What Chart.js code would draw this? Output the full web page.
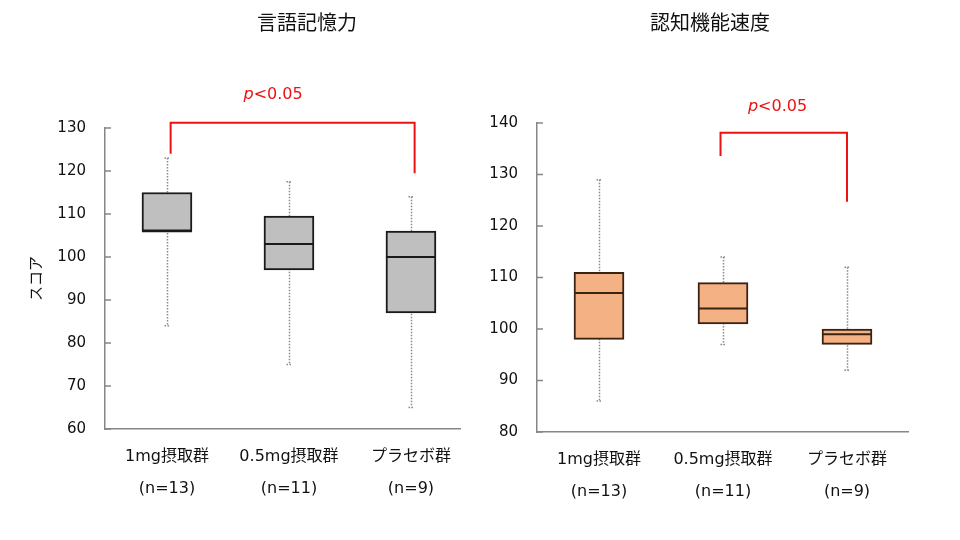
<!DOCTYPE html>
<html>
<head>
<meta charset="utf-8">
<script src="https://cdn.jsdelivr.net/npm/chart.js@4.4.1/dist/chart.umd.min.js"></script>
<style>
  body { margin: 0; background: #fff; width: 960px; height: 540px; overflow: hidden; position: relative; }
  canvas { position: absolute; top: 0; }
  #memory { left: 0; }
  #speed { left: 480px; }
</style>
</head>
<body>
<canvas id="memory" width="480" height="540"></canvas>
<canvas id="speed" width="480" height="540"></canvas>
<script>
const groups = [["1mg摂取群", "(n=13)"], ["0.5mg摂取群", "(n=11)"], ["プラセボ群", "(n=9)"]];

// 言語記憶力
const memMin = [84, 75, 65];
const memQ1 = [106, 97, 87];
const memMedian = [106, 103, 100];
const memQ3 = [115, 109.5, 106];
const memMax = [123, 117.5, 114];
const memTicks = [60, 70, 80, 90, 100, 110, 120, 130];

// 認知機能速度
const speedMin = [86, 97, 92];
const speedQ1 = [98, 101, 97];
const speedMedian = [107, 104, 99];
const speedQ3 = [111, 109, 100];
const speedMax = [129, 114, 112];
const speedTicks = [80, 90, 100, 110, 120, 130, 140];

// significance bracket: [left x, right x], [left leg y, top y, right leg y], label pos
const memBracketX = [0.03, 2.03];
const memBracketY = [124, 131.2, 119.5];
const memSigAt = [0.87, 137.7];
const speedBracketX = [0.98, 2.0];
const speedBracketY = [133.6, 138.1, 124.7];
const speedSigAt = [1.44, 143.1];

const axisGrey = "#868686";
const red = "#ee1111";

function boxPlugin(cfg) {
  return {
    id: "boxExtras",
    beforeDatasetsDraw(chart) {
      const { ctx, scales: { x, y } } = chart;
      ctx.save();
      ctx.strokeStyle = "#8a8a8a";
      ctx.lineWidth = 1.5;
      ctx.setLineDash([1.5, 1.5]);
      cfg.min.forEach((lo, i) => {
        const px = Math.round(x.getPixelForValue(i)) + 0.5;
        const top = y.getPixelForValue(cfg.max[i]);
        const bot = y.getPixelForValue(lo);
        ctx.beginPath();
        ctx.moveTo(px, top); ctx.lineTo(px, bot);
        ctx.moveTo(px - 3, top); ctx.lineTo(px + 3, top);
        ctx.moveTo(px - 3, bot); ctx.lineTo(px + 3, bot);
        ctx.stroke();
      });
      ctx.restore();
    },
    afterDatasetsDraw(chart) {
      const { ctx, chartArea, scales: { x, y } } = chart;
      ctx.save();
      // medians
      ctx.strokeStyle = cfg.edge;
      ctx.lineWidth = 2;
      cfg.median.forEach((m, i) => {
        const px = x.getPixelForValue(i);
        const py = y.getPixelForValue(m);
        ctx.beginPath();
        ctx.moveTo(px - 25, py); ctx.lineTo(px + 25, py);
        ctx.stroke();
      });
      // inward tick marks
      ctx.strokeStyle = axisGrey;
      ctx.lineWidth = 1.5;
      y.ticks.forEach(t => {
        const py = y.getPixelForValue(t.value);
        ctx.beginPath();
        ctx.moveTo(chartArea.left, py); ctx.lineTo(chartArea.left + 6, py);
        ctx.stroke();
      });
      // bracket
      const [xa, xb] = cfg.bracketX.map(v => x.getPixelForValue(v));
      const [ya, yt, yb] = cfg.bracketY.map(v => y.getPixelForValue(v));
      ctx.strokeStyle = red;
      ctx.lineWidth = 2;
      ctx.beginPath();
      ctx.moveTo(xa, ya); ctx.lineTo(xa, yt); ctx.lineTo(xb, yt); ctx.lineTo(xb, yb);
      ctx.stroke();
      // p<0.05
      const tx = x.getPixelForValue(cfg.sigAt[0]);
      const ty = y.getPixelForValue(cfg.sigAt[1]);
      ctx.fillStyle = red;
      ctx.textBaseline = "middle";
      ctx.textAlign = "left";
      ctx.font = "italic 16px 'DejaVu Sans'";
      const wp = ctx.measureText("p").width;
      ctx.font = "16px 'DejaVu Sans'";
      const wr = ctx.measureText("<0.05").width;
      const x0 = tx - (wp + wr) / 2;
      ctx.font = "italic 16px 'DejaVu Sans'";
      ctx.fillText("p", x0, ty);
      ctx.font = "16px 'DejaVu Sans'";
      ctx.fillText("<0.05", x0 + wp, ty);
      // title
      ctx.fillStyle = "#111";
      ctx.textAlign = "center";
      ctx.font = "20px 'Noto Sans CJK JP'";
      ctx.fillText(cfg.title, cfg.titleX, 22);
      ctx.restore();
    }
  };
}

function makeChart(id, c) {
  return new Chart(document.getElementById(id), {
    type: "bar",
    data: {
      datasets: [{
        data: c.q1.map((q, i) => ({ x: i, y: [q, c.q3[i]] })),
        backgroundColor: c.fill,
        borderColor: c.edge,
        borderWidth: 2,
        borderSkipped: false,
        barThickness: 50
      }]
    },
    options: {
      responsive: false,
      animation: false,
      layout: { padding: c.padding },
      plugins: { legend: { display: false }, tooltip: { enabled: false } },
      scales: {
        x: {
          type: "linear",
          offset: false,
          min: c.xRange[0],
          max: c.xRange[1],
          grid: { display: false, drawTicks: false },
          border: { display: true, color: axisGrey, width: 1.5 },
          afterFit: s => { s.height = c.xHeight; },
          ticks: {
            stepSize: 1,
            includeBounds: false,
            autoSkip: false,
            maxRotation: 0,
            padding: 12,
            color: "#111",
            font: { family: "'DejaVu Sans', 'Noto Sans CJK JP'", size: 16, lineHeight: 2.0 },
            callback: v => groups[v]
          }
        },
        y: {
          min: c.ticks[0],
          max: c.ticks[c.ticks.length - 1],
          grid: { display: false, drawTicks: false },
          border: { display: true, color: axisGrey, width: 1.5 },
          afterFit: s => { s.width = c.yWidth; },
          afterBuildTicks: s => { s.ticks = c.ticks.map(v => ({ value: v })); },
          ticks: {
            padding: 19,
            color: "#111",
            font: { family: "'DejaVu Sans'", size: 15 }
          },
          title: {
            display: !!c.yTitle,
            text: c.yTitle,
            color: "#111",
            padding: { top: 26, bottom: 0 },
            font: { family: "'Noto Sans CJK JP'", size: 15 }
          }
        }
      }
    },
    plugins: [boxPlugin(c)]
  });
}

makeChart("memory", {
  title: "言語記憶力", titleX: 307, yTitle: "スコア",
  min: memMin, q1: memQ1, median: memMedian, q3: memQ3, max: memMax, ticks: memTicks,
  bracketX: memBracketX, bracketY: memBracketY, sigAt: memSigAt,
  fill: "#bfbfbf", edge: "#1a1a1a",
  xRange: [-0.508, 2.402], padding: { top: 128, right: 20, left: 0, bottom: 0 },
  yWidth: 105, xHeight: 111
});

makeChart("speed", {
  title: "認知機能速度", titleX: 230, yTitle: "",
  min: speedMin, q1: speedQ1, median: speedMedian, q3: speedQ3, max: speedMax, ticks: speedTicks,
  bracketX: speedBracketX, bracketY: speedBracketY, sigAt: speedSigAt,
  fill: "#f4b183", edge: "#3b2314",
  xRange: [-0.5, 2.492], padding: { top: 123, right: 52, left: 0, bottom: 0 },
  yWidth: 57, xHeight: 108
});
</script>
</body>
</html>
